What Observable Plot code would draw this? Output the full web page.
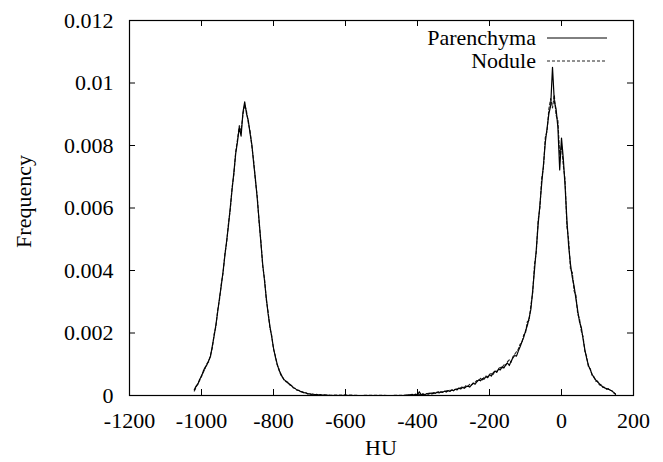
<!DOCTYPE html>
<html><head><meta charset="utf-8">
<script src="https://cdn.jsdelivr.net/npm/d3@7"></script>
<script src="https://cdn.jsdelivr.net/npm/@observablehq/plot@0.6"></script>
<style>
html,body{margin:0;padding:0;background:#fff}
svg{display:block}
</style>
</head><body><div id="chart"></div>
<script>
// HU bin positions
const hu = [
-1020,-1015,-1010,-1005,-1000,-995,-990,-985,-980,-975,
-970,-965,-960,-955,-950,-945,-940,-935,-930,-925,
-920,-915,-910,-905,-900,-895,-890,-885,-880,-875,
-870,-865,-860,-855,-850,-845,-840,-835,-830,-825,
-820,-815,-810,-805,-800,-795,-790,-785,-780,-775,
-770,-765,-760,-755,-750,-745,-740,-735,-730,-725,
-720,-715,-710,-705,-700,-695,-690,-685,-680,-675,
-670,-665,-660,
-640,-600,-560,-520,-480,-440,
-425,-420,-415,-410,-405,-400,-395,-390,-385,-380,
-375,-370,-365,-360,-355,-350,-345,-340,-335,-330,
-325,-320,-315,-310,-305,-300,-295,-290,-285,-280,
-275,-270,-265,-260,-255,-250,-245,-240,-235,-230,
-225,-220,-215,-210,-205,-200,-195,-190,-185,-180,
-175,-170,-165,-160,-155,-150,-145,-140,-135,-130,
-125,-120,-115,-110,-105,-100,-95,-90,-85,-80,
-75,-70,-65,-60,-55,-50,-45,-40,-35,-30,
-25,-20,-15,-10,-5,0,5,10,15,20,
25,30,35,40,45,50,55,60,65,70,
75,80,85,90,95,100,105,110,115,120,
125,130,135,140,145,150
];
const parenchyma = [
.00018,.00030,.00036,.00052,.00061,.00078,.00090,.00098,.00112,.00125,
.00158,.00190,.00226,.00268,.00312,.00352,.00398,.00448,.00496,.00545,
.00602,.00660,.00715,.00774,.00812,.00858,.00830,.00905,.00940,.00902,
.00880,.00838,.00802,.00742,.00690,.00628,.00560,.00488,.00420,.00368,
.00312,.00262,.00222,.00188,.00152,.00124,.00102,.00082,.00070,.00058,
.00050,.00046,.00040,.00036,.00031,.00026,.00022,.00018,.00016,.00013,
.00011,.00009,.00008,.00006,.00005,.00004,.00004,.00003,.00003,.00002,
.00002,.00001,.00001,
0,0,0,0,0,0,
.00002,.00000,.00004,.00001,.00003,.00002,.00012,.00003,.00004,.00002,
.00006,.00004,.00008,.00005,.00009,.00007,.00011,.00008,.00012,.00010,
.00014,.00011,.00016,.00013,.00018,.00015,.00020,.00018,.00024,.00021,
.00026,.00023,.00028,.00030,.00027,.00034,.00040,.00036,.00044,.00050,
.00047,.00054,.00052,.00060,.00057,.00066,.00062,.00072,.00078,.00074,
.00084,.00082,.00092,.00088,.00098,.00104,.00096,.00110,.00120,.00128,
.00126,.00142,.00156,.00172,.00186,.00206,.00224,.00248,.00276,.00336,
.00402,.00468,.00546,.00610,.00678,.00740,.00810,.00856,.00902,.00928,
.01050,.00942,.00916,.00858,.00722,.00824,.00758,.00668,.00562,.00476,
.00420,.00378,.00350,.00310,.00272,.00236,.00218,.00180,.00146,.00118,
.00096,.00082,.00068,.00058,.00050,.00044,.00038,.00032,.00028,.00024,
.00022,.00020,.00018,.00014,.00010,.00004
];
const nodule = [
.00014,.00026,.00040,.00048,.00064,.00074,.00086,.00102,.00108,.00130,
.00152,.00196,.00220,.00274,.00306,.00358,.00392,.00454,.00490,.00552,
.00596,.00666,.00708,.00780,.00820,.00864,.00846,.00898,.00930,.00910,
.00872,.00846,.00796,.00750,.00684,.00636,.00552,.00494,.00414,.00374,
.00306,.00268,.00216,.00192,.00148,.00128,.00098,.00086,.00066,.00060,
.00048,.00044,.00042,.00034,.00032,.00024,.00023,.00017,.00017,.00012,
.00012,.00008,.00009,.00005,.00006,.00003,.00005,.00002,.00004,.00001,
.00003,.00001,.00002,
.00001,.00002,0,.00001,0,.00001,
.00001,.00003,.00001,.00002,.00005,.00001,.00004,.00002,.00006,.00003,
.00005,.00007,.00006,.00009,.00006,.00010,.00009,.00013,.00010,.00012,
.00012,.00015,.00014,.00017,.00016,.00019,.00019,.00022,.00021,.00025,
.00028,.00026,.00032,.00029,.00036,.00033,.00038,.00042,.00048,.00046,
.00055,.00050,.00058,.00062,.00060,.00068,.00070,.00066,.00080,.00076,
.00086,.00090,.00086,.00100,.00096,.00108,.00114,.00106,.00124,.00132,
.00140,.00148,.00164,.00168,.00194,.00200,.00236,.00240,.00290,.00328,
.00420,.00458,.00560,.00600,.00696,.00730,.00826,.00846,.00918,.00950,
.00920,.00962,.00896,.00880,.00770,.00800,.00736,.00690,.00540,.00498,
.00402,.00394,.00334,.00322,.00260,.00246,.00206,.00188,.00140,.00124,
.00090,.00086,.00064,.00060,.00046,.00046,.00034,.00034,.00026,.00026,
.00020,.00022,.00016,.00016,.00008,.00005
];
const xTicks = [-1200,-1000,-800,-600,-400,-200,0,200];
const yTicks = [0,0.002,0.004,0.006,0.008,0.01,0.012];
const seriesNames = ["Parenchyma","Nodule"];
const xLabel = "HU";
const yLabel = "Frequency";

const W = 663, H = 462, mL = 129, mR = 30, mT = 20, mB = 67;
const pw = W - mL - mR, ph = H - mT - mB;
const font = "Liberation Serif";

const parRows = hu.map((h, i) => ({hu: h, freq: parenchyma[i]}));
const nodRows = hu.map((h, i) => ({hu: h, freq: nodule[i]}));

const plot = Plot.plot({
  width: W, height: H,
  marginLeft: mL, marginRight: mR, marginTop: mT, marginBottom: mB,
  style: {fontSize: "22px", background: "#fff", color: "#000"},
  x: {domain: [-1200, 200]},
  y: {domain: [0, 0.012]},
  marks: [
    Plot.line(nodRows, {x: "hu", y: "freq", stroke: "#222", strokeWidth: 1.1, strokeDasharray: "3,2"}),
    Plot.line(parRows, {x: "hu", y: "freq", stroke: "#000", strokeWidth: 1.2}),
    Plot.tickX(xTicks, {x: d => d, insetTop: ph - 6, stroke: "#000"}),
    Plot.tickX(xTicks, {x: d => d, insetBottom: ph - 6, stroke: "#000"}),
    Plot.tickY(yTicks, {y: d => d, insetRight: pw - 6, stroke: "#000"}),
    Plot.tickY(yTicks, {y: d => d, insetLeft: pw - 6, stroke: "#000"}),
    Plot.frame({stroke: "#000", strokeWidth: 1.2}),
    Plot.axisX({ticks: xTicks, tickSize: 0, tickPadding: 17, tickFormat: d => String(d), label: null, fontSize: 22}),
    Plot.axisY({ticks: yTicks, tickSize: 0, tickPadding: 16, tickFormat: d => String(d), label: null, fontSize: 22})
  ]
});

const svg = d3.select(plot);
// axis titles
svg.append("text").attr("x", mL + pw / 2).attr("y", 455)
  .attr("text-anchor", "middle").attr("font-size", 22).attr("fill", "#000")
  .text(xLabel);
svg.append("text").attr("transform", `translate(23,${mT + ph / 2 - 6}) rotate(-90)`)
  .attr("text-anchor", "middle").attr("dy", "0.35em").attr("font-size", 22).attr("fill", "#000")
  .text(yLabel);
// legend
const leg = svg.append("g").attr("font-size", 22).attr("fill", "#000");
const legY = [38, 61];
const legDash = [null, "3,2"];
const legStroke = ["#000", "#222"];
seriesNames.forEach((name, i) => {
  leg.append("text").attr("x", 536).attr("y", legY[i]).attr("dy", "0.33em").attr("text-anchor", "end").text(name);
  leg.append("line").attr("x1", 547).attr("x2", 607).attr("y1", legY[i]).attr("y2", legY[i])
    .attr("stroke", legStroke[i]).attr("stroke-width", 1).attr("stroke-dasharray", legDash[i]);
});
svg.style("font-family", null);
svg.selectAll("g").attr("font-family", null);
svg.selectAll("text").attr("font-family", font).style("font-family", font);

document.getElementById("chart").appendChild(plot);
</script>
</body></html>
